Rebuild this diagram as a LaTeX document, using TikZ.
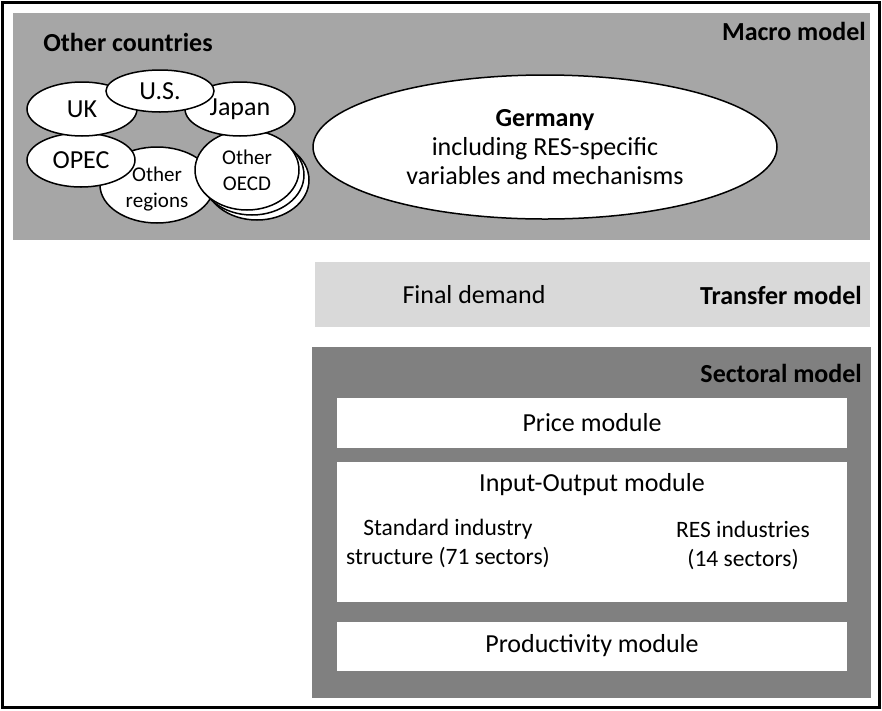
\documentclass[tikz,border=0pt]{standalone}
\usepackage{fontspec}
\setmainfont{Carlito}
\usetikzlibrary{shapes.geometric}
\usetikzlibrary{positioning}
\definecolor{macrogray}{HTML}{A6A6A6}
\definecolor{transgray}{HTML}{D9D9D9}
\definecolor{sectgray}{HTML}{808080}
\newcommand{\bigtxt}{\fontsize{26}{29}\selectfont}
\newcommand{\midtxt}{\fontsize{23.5}{29}\selectfont}
\newcommand{\smalltxt}{\fontsize{21}{26}\selectfont}

\tikzset{
  country/.style={draw=black, line width=1.5pt, fill=white, ellipse, inner sep=0pt, font=\bigtxt, align=center},
  modbox/.style={fill=white, draw=none, inner sep=0pt, font=\bigtxt, minimum width=510pt},
  heading/.style={font=\bigtxt\bfseries, anchor=east, inner sep=0pt},
}

\begin{document}
\begin{tikzpicture}[x=1pt,y=-1pt]
				\useasboundingbox (0,0) rectangle (882,710);
				% draw frame
				\fill[white] (0,0) rectangle (882,710);
				\draw[line width=3pt] (2.5,2.5) rectangle (879.5,707.5);
				% draw model blocks
				\fill[macrogray] (13,13) rectangle (870,240);
				\fill[transgray] (315,262) rectangle (870,327);
				\fill[sectgray] (312,347) rectangle (871,698);
				
				% macro model
				\node[heading] (macro) at (866,31) {Macro model};
				\node[font=\bigtxt\bfseries, inner sep=0pt] (others) at (128,42) {Other countries};
				\node[country, minimum width=114pt, minimum height=76pt, font=\smalltxt] (regions) at (157,185) {\\[-4pt]Other\\regions};
				\node[country, minimum width=104pt, minimum height=80pt] (oecdb) at (257,180) {};
				\node[country, minimum width=104pt, minimum height=80pt] (oecda) at (252,175) {};
				\node[country, minimum width=104pt, minimum height=80pt, font=\smalltxt] (oecd) at (247,170) {Other\\OECD};
				\node[country, minimum width=108pt, minimum height=54pt] (opec) at (81,160) {OPEC};
				\node[country, minimum width=110pt, minimum height=54pt] (uk) at (82,109) {UK};
				\node[country, minimum width=110pt, minimum height=54pt] (japan) at (240,109) {Japan};
				\node[country, minimum width=108pt, minimum height=42pt] (us) at (160,91) {U.S.};
				\node[country, minimum width=464pt, minimum height=144pt] (germany) at (545,147) {\textbf{Germany}\\including RES-specific\\variables and mechanisms};
				
				% transfer model
				\node[heading] (transfer) at (862,295) {Transfer model};
				\node[font=\bigtxt] (demand) at (474,295) {Final demand};
				
				% sectoral model
				\node[heading] (sectoral) at (862,373) {Sectoral model};
				\node[modbox, minimum height=50pt] (price) at (592,423) {Price module};
				\node[modbox, minimum height=140pt] (io) at (592,532) {};
				\node[font=\bigtxt] (iotitle) at (592,485) {Input-Output module};
				\node[font=\midtxt, align=center] (std) at (448,543) {Standard industry\\structure (71 sectors)};
				\node[font=\midtxt, align=center] (res) at (743,545) {RES industries\\(14 sectors)};
				\node[modbox, minimum height=49pt] (prod) at (592,646) {Productivity module};
			\end{tikzpicture}
\end{document}
